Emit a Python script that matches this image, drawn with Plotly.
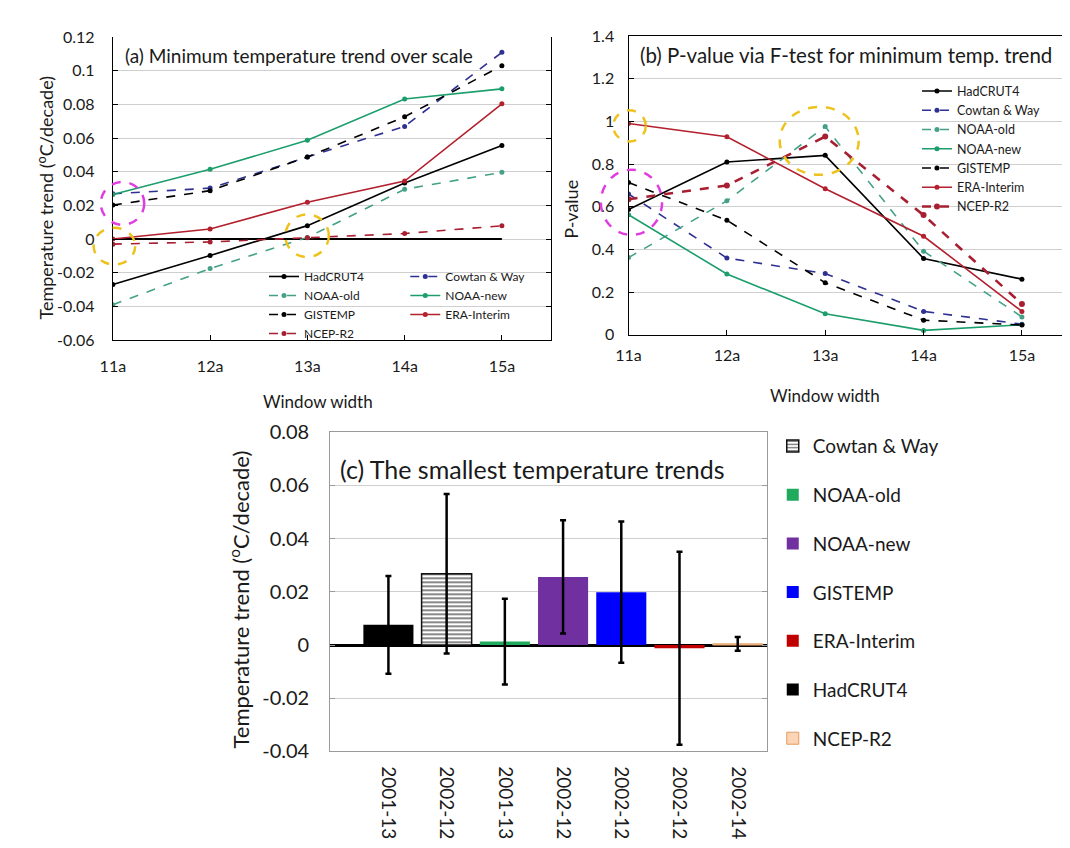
import plotly.graph_objects as go

# ---------------- data ----------------
windows = ["11a", "12a", "13a", "14a", "15a"]

# (a) minimum temperature trend (oC/decade) per window width
trend_hadcrut4 = [-0.027, -0.0098, 0.008, 0.0334, 0.0557]
trend_cowtan = [0.0269, 0.0303, 0.0488, 0.067, 0.111]
trend_noaa_old = [-0.039, -0.0175, 0.001, 0.0296, 0.0397]
trend_noaa_new = [0.0265, 0.0415, 0.0587, 0.0833, 0.0893]
trend_gistemp = [0.0202, 0.0288, 0.0488, 0.0727, 0.103]
trend_era = [0.0, 0.006, 0.0219, 0.0345, 0.0804]
trend_ncep = [-0.003, -0.0017, 0.0008, 0.0033, 0.0079]
zero_reference = [0, 0, 0, 0, 0]

# (b) P-values via F-test
p_hadcrut4 = [0.587, 0.810, 0.841, 0.358, 0.261]
p_cowtan = [0.66, 0.36, 0.287, 0.11, 0.05]
p_noaa_old = [0.362, 0.628, 0.976, 0.392, 0.084]
p_noaa_new = [0.563, 0.285, 0.099, 0.021, 0.047]
p_gistemp = [0.714, 0.537, 0.244, 0.069, 0.046]
p_era = [0.99, 0.928, 0.685, 0.462, 0.11]
p_ncep = [0.635, 0.70, 0.929, 0.561, 0.145]

# (c) smallest temperature trends
bar_names = ["HadCRUT4", "Cowtan & Way", "NOAA-old", "NOAA-new", "GISTEMP", "ERA-Interim", "NCEP-R2"]
bar_periods = ["2001-13", "2002-12", "2001-13", "2002-12", "2002-12", "2002-12", "2002-14"]
bar_trends = [0.0076, 0.0268, 0.0013, 0.0256, 0.0199, -0.0012, 0.00045]
bar_errors = [0.0184, 0.030, 0.0161, 0.0213, 0.0266, 0.0363, 0.00255]
bar_legend_order = ["Cowtan & Way", "NOAA-old", "NOAA-new", "GISTEMP", "ERA-Interim", "HadCRUT4", "NCEP-R2"]

trend_ticks = [-0.06, -0.04, -0.02, 0, 0.02, 0.04, 0.06, 0.08, 0.1, 0.12]
p_ticks = [0, 0.2, 0.4, 0.6, 0.8, 1.0, 1.2, 1.4]
bar_ticks = [-0.04, -0.02, 0, 0.02, 0.04, 0.06, 0.08]

# ---------------- styles ----------------
W, H = 1070, 848
FONT = "Lato, 'Open Sans', sans-serif"
TXT = "#1a1a1a"

line_styles = {
    "HadCRUT4": dict(color="#000000", dash="solid"),
    "Cowtan & Way": dict(color="#2e3192", dash="dash"),
    "NOAA-old": dict(color="#45a088", dash="dash"),
    "NOAA-new": dict(color="#1c9e6c", dash="solid"),
    "GISTEMP": dict(color="#000000", dash="dash"),
    "ERA-Interim": dict(color="#b3202e", dash="solid"),
    "NCEP-R2": dict(color="#a81f32", dash="dash"),
}
bar_colors = {
    "HadCRUT4": "#000000",
    "Cowtan & Way": "#ffffff",
    "NOAA-old": "#1faa5c",
    "NOAA-new": "#7030a0",
    "GISTEMP": "#0000ff",
    "ERA-Interim": "#c00000",
    "NCEP-R2": "#fcd5b4",
}

def px_dom_x(left, right):
    return [left / W, right / W]

def px_dom_y(top, bottom):
    return [1 - bottom / H, 1 - top / H]

dom_a_x, dom_a_y = px_dom_x(93, 537), px_dom_y(16.7, 328.3)
dom_b_x, dom_b_y = px_dom_x(615, 1064), px_dom_y(15.5, 323)
dom_c_x, dom_c_y = px_dom_x(313, 755), px_dom_y(423.3, 751.7)
range_a_x, range_a_y = [0, 4.51], [-0.06, 0.12]
range_b_x, range_b_y = [0, 4.51], [0, 1.4]
range_c_x, range_c_y = [-1, 6.5], [-0.04, 0.08]

fig = go.Figure()
xs = list(range(len(windows)))

# (a) zero reference line
fig.add_trace(go.Scatter(x=xs, y=zero_reference, mode="lines", line=dict(color="#000000", width=2),
                         showlegend=False, hoverinfo="skip", xaxis="x", yaxis="y"))

panel_a = [("HadCRUT4", trend_hadcrut4, "legend"), ("Cowtan & Way", trend_cowtan, "legend2"),
           ("NOAA-old", trend_noaa_old, "legend"), ("NOAA-new", trend_noaa_new, "legend2"),
           ("GISTEMP", trend_gistemp, "legend"), ("ERA-Interim", trend_era, "legend2"),
           ("NCEP-R2", trend_ncep, "legend")]
for name, vals, leg in panel_a:
    st = line_styles[name]
    fig.add_trace(go.Scatter(x=xs, y=vals, mode="lines+markers", name=name, legend=leg,
                             line=dict(color=st["color"], dash=st["dash"], width=1.6),
                             marker=dict(color=st["color"], size=5),
                             xaxis="x", yaxis="y"))

panel_b = [("HadCRUT4", p_hadcrut4), ("Cowtan & Way", p_cowtan), ("NOAA-old", p_noaa_old),
           ("NOAA-new", p_noaa_new), ("GISTEMP", p_gistemp), ("ERA-Interim", p_era),
           ("NCEP-R2", p_ncep)]
for name, vals in panel_b:
    st = line_styles[name]
    w = 2.6 if name == "NCEP-R2" else 1.6
    fig.add_trace(go.Scatter(x=xs, y=vals, mode="lines+markers", name=name, legend="legend3",
                             line=dict(color=st["color"], dash=st["dash"], width=w),
                             marker=dict(color=st["color"], size=6 if name == "NCEP-R2" else 5),
                             xaxis="x2", yaxis="y2"))

for i, (name, val, err) in enumerate(zip(bar_names, bar_trends, bar_errors)):
    marker = dict(color=bar_colors[name], line=dict(color="#000000", width=0))
    if name == "Cowtan & Way":
        marker = dict(color="#ffffff", line=dict(color="#111111", width=1.5),
                      pattern=dict(shape="-", fgcolor="#111111", bgcolor="#ffffff", size=4, solidity=0.5))
    elif name == "NCEP-R2":
        marker = dict(color=bar_colors[name], line=dict(color="#e09a60", width=1))
    fig.add_trace(go.Bar(x=[i], y=[val], width=0.86, name=name, legend="legend4",
                         legendgroup="c_" + name, legendrank=bar_legend_order.index(name) + 1,
                         marker=marker,
                         error_y=dict(type="data", array=[err], color="#000000", thickness=2.5, width=3),
                         xaxis="x3", yaxis="y3"))

def fmt(v):
    return f"{round(v, 4):g}"

axis_common = dict(showline=True, linecolor="#000000", linewidth=1.3, ticks="inside", ticklen=5,
                   tickcolor="#000000", zeroline=False, tickfont=dict(family=FONT, size=16, color=TXT))

fig.update_layout(
    width=W, height=H, margin=dict(l=0, r=0, t=0, b=0),
    paper_bgcolor="white", plot_bgcolor="white",
    font=dict(family=FONT, color=TXT),
    barmode="overlay",
    xaxis=dict(domain=dom_a_x, range=range_a_x, tickvals=xs, ticktext=windows, showgrid=False,
               ticklabelstandoff=12, **axis_common),
    yaxis=dict(domain=dom_a_y, range=range_a_y, tickvals=trend_ticks, ticktext=[fmt(v) for v in trend_ticks],
               showgrid=True, gridcolor="#cfcfcf", gridwidth=1, mirror="ticks", ticklabelstandoff=14,
               **axis_common),
    xaxis2=dict(domain=dom_b_x, range=range_b_x, tickvals=xs, ticktext=windows, showgrid=False,
                mirror=True, ticklabelstandoff=6, anchor="y2", **axis_common),
    yaxis2=dict(domain=dom_b_y, range=range_b_y, tickvals=p_ticks, ticktext=[fmt(v) for v in p_ticks],
                showgrid=True, gridcolor="#cfcfcf", gridwidth=1, mirror="ticks", ticklabelstandoff=10,
                anchor="x2", **axis_common),
    xaxis3=dict(domain=dom_c_x, range=range_c_x, tickvals=list(range(len(bar_periods))), ticktext=bar_periods,
                tickangle=90, showgrid=False, showline=True, linecolor="#9a9a9a", linewidth=1, mirror=True,
                ticks="", zeroline=False, ticklabelstandoff=10, anchor="y3",
                tickfont=dict(family=FONT, size=19, color=TXT)),
    yaxis3=dict(domain=dom_c_y, range=range_c_y, tickvals=bar_ticks, ticktext=[fmt(v) for v in bar_ticks],
                showgrid=True, gridcolor="#cfcfcf", gridwidth=1, showline=True, linecolor="#9a9a9a",
                linewidth=1, mirror="ticks", ticks="inside", ticklen=5, tickcolor="#9a9a9a",
                zeroline=True, zerolinecolor="#000000", zerolinewidth=3, ticklabelstandoff=16,
                anchor="x3", tickfont=dict(family=FONT, size=20, color=TXT)),
    legend=dict(x=246 / W, y=1 - 248 / H, xanchor="left", yanchor="top", bgcolor="rgba(0,0,0,0)",
                font=dict(family=FONT, size=12, color=TXT), tracegroupgap=0),
    legend2=dict(x=389 / W, y=1 - 248 / H, xanchor="left", yanchor="top", bgcolor="rgba(0,0,0,0)",
                 font=dict(family=FONT, size=12, color=TXT), tracegroupgap=0),
    legend3=dict(x=907 / W, y=1 - 57 / H, xanchor="left", yanchor="top", bgcolor="rgba(0,0,0,0)",
                 font=dict(family=FONT, size=12.5, color=TXT), tracegroupgap=0),
    legend4=dict(x=761 / W, y=1 - 418 / H, xanchor="left", yanchor="top", bgcolor="rgba(0,0,0,0)",
                 font=dict(family=FONT, size=19, color=TXT), tracegroupgap=21, traceorder="grouped"),
    showlegend=True,
)

# panel titles / axis titles as annotations
ann = [
    dict(text="(a) Minimum temperature trend over scale", x=103 / W, y=1 - 35 / H, xanchor="left",
         yanchor="middle", font=dict(size=19)),
    dict(text="(b) P-value via F-test for minimum temp. trend", x=625 / W, y=1 - 35 / H, xanchor="left",
         yanchor="middle", font=dict(size=20.5)),
    dict(text="(c) The smallest temperature trends", x=321 / W, y=1 - 461 / H, xanchor="left",
         yanchor="middle", font=dict(size=25)),
    dict(text="Temperature trend (<sup>o</sup>C/decade)", x=25 / W, y=1 - 182 / H, textangle=-90,
         xanchor="center", yanchor="middle", font=dict(size=18)),
    dict(text="P-value", x=556 / W, y=1 - 194 / H, textangle=-90, xanchor="center", yanchor="middle",
         font=dict(size=18)),
    dict(text="Temperature trend (<sup>o</sup>C/decade)", x=221 / W, y=1 - 595 / H, textangle=-90,
         xanchor="center", yanchor="middle", font=dict(size=22)),
    dict(text="Window width", x=301 / W, y=1 - 392 / H, xanchor="center", yanchor="middle",
         font=dict(size=17)),
    dict(text="Window width", x=814 / W, y=1 - 385 / H, xanchor="center", yanchor="middle",
         font=dict(size=17)),
]
for a in ann:
    a.update(xref="paper", yref="paper", showarrow=False)
    a["font"] = dict(family=FONT, color=TXT, **a["font"])
fig.update_layout(annotations=ann)

# dashed highlight circles (centres in data units, radii in px)
MAGENTA, YELLOW = "#e03ce0", "#eec21c"
def circle(ax, ay, dom_x, dom_y, rx_, ry_, cx, cy, rpx, rpy, color):
    fx = (cx - rx_[0]) / (rx_[1] - rx_[0])
    fy = (cy - ry_[0]) / (ry_[1] - ry_[0])
    wx = (dom_x[1] - dom_x[0]) * W
    wy = (dom_y[1] - dom_y[0]) * H
    return dict(type="circle", xref=ax + " domain", yref=ay + " domain",
                x0=fx - rpx / wx, x1=fx + rpx / wx, y0=fy - rpy / wy, y1=fy + rpy / wy,
                line=dict(color=color, width=2.5, dash="dash"), layer="above")

shapes = [
    circle("x", "y", dom_a_x, dom_a_y, range_a_x, range_a_y, 0.099, 0.0212, 22, 22, MAGENTA),
    circle("x", "y", dom_a_x, dom_a_y, range_a_x, range_a_y, 0.016, -0.0042, 21, 19, YELLOW),
    circle("x", "y", dom_a_x, dom_a_y, range_a_x, range_a_y, 1.997, 0.002, 22, 22, YELLOW),
    circle("x2", "y2", dom_b_x, dom_b_y, range_b_x, range_b_y, 0.03, 0.621, 31, 33.5, MAGENTA),
    circle("x2", "y2", dom_b_x, dom_b_y, range_b_x, range_b_y, 0.01, 0.979, 16.5, 16, YELLOW),
    circle("x2", "y2", dom_b_x, dom_b_y, range_b_x, range_b_y, 1.939, 0.909, 40, 35, YELLOW),
]
fig.update_layout(shapes=shapes)

fig.write_html("out.html")
